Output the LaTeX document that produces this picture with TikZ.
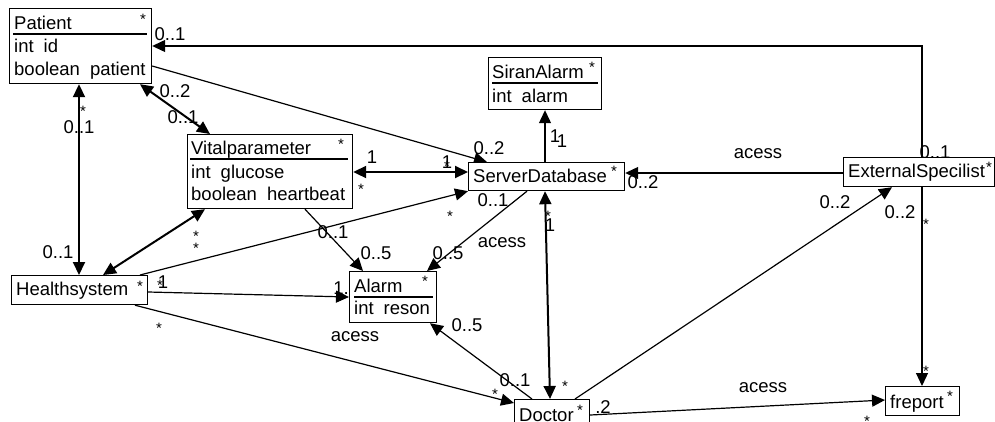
\documentclass[tikz,border=0pt]{standalone}
\usepackage{fontspec}
\setmainfont{Liberation Sans}
\usetikzlibrary{arrows.meta,backgrounds}
\begin{document}
\begin{tikzpicture}[x=1pt,y=-1pt,
  every node/.style={font=\fontsize{18.5}{20}\selectfont},
  box/.style={draw, line width=1.2pt, fill=white, inner sep=0, anchor=north west},
  txt/.style={inner sep=0, anchor=base west},
  lab/.style={inner sep=0, anchor=base},
  star/.style={inner sep=0, anchor=base, font=\fontsize{15}{16}\selectfont},
  sepline/.style={line width=1.2pt},
  assoc/.style={line width=1.2pt, -{Triangle[length=13pt,width=12pt]}},
  biassoc/.style={line width=2pt, {Triangle[length=13pt,width=12pt]}-{Triangle[length=13pt,width=12pt]}}]
\useasboundingbox (0,0) rectangle (995,421);
\clip (0,0) rectangle (995,421);
% boxes
\node[box, minimum width=142pt, minimum height=75pt] (patient) at (9,8) {};
\node[box, minimum width=165pt, minimum height=74pt] (vital) at (187,134) {};
\node[box, minimum width=113pt, minimum height=52pt] (siran) at (488,57) {};
\node[box, minimum width=156pt, minimum height=28pt] (server) at (468,162) {};
\node[box, minimum width=151pt, minimum height=29pt] (ext) at (843,157) {};
\node[box, minimum width=136pt, minimum height=29pt] (health) at (11,275) {};
\node[box, minimum width=87pt, minimum height=51pt] (alarm) at (349,271) {};
\node[box, minimum width=75pt, minimum height=34pt] (doctor) at (514,399) {};
\node[box, minimum width=74pt, minimum height=29pt] (freport) at (885,386) {};
% box texts
\node[txt] (tPatient) at (14,29) {Patient};
\node[txt] (tPid) at (14,52) {int\hspace{10pt}id};
\node[txt] (tPbool) at (14,75) {boolean\hspace{10pt}patient};
\node[txt] (tVital) at (191,154) {Vitalparameter};
\node[txt] (tVglu) at (191,178) {int\hspace{10pt}glucose};
\node[txt] (tVhb) at (191,200) {boolean\hspace{10pt}heartbeat};
\node[txt] (tSiran) at (492,78) {SiranAlarm};
\node[txt] (tSal) at (492,102) {int\hspace{10pt}alarm};
\node[txt] (tServer) at (473,182) {ServerDatabase};
\node[txt] (tExt) at (848,177) {ExternalSpecilist};
\node[txt] (tHealth) at (16,295) {Healthsystem};
\node[txt] (tAlarm) at (354,292) {Alarm};
\node[txt] (tAres) at (354,314) {int\hspace{10pt}reson};
\node[txt] (tDoctor) at (519,421) {Doctor};
\node[txt] (tFreport) at (890,408) {freport};
% box stars
\node[star] (sPatient) at (143,24) {*};
\node[star] (sVital) at (341,149) {*};
\node[star] (sSiran) at (592,72) {*};
\node[star] (sServer) at (614,176) {*};
\node[star] (sExt) at (989,172) {*};
\node[star] (sHealth) at (140,291) {*};
\node[star] (sAlarm) at (425,286) {*};
\node[star] (sDoctor) at (580,415) {*};
\node[star] (sFreport) at (950,401) {*};
% header lines
\draw[sepline] (13,34) -- (147,34);
\draw[sepline] (190,159) -- (348,159);
\draw[sepline] (492,83) -- (598,83);
\draw[sepline] (354,297) -- (433,297);
\begin{pgfonlayer}{background}
% connectors
\draw[assoc] (ext.north -| 922,0) |- (patient.east |- 0,46);
\draw[assoc] (patient.east |- 0,66) -- (server.north -| 487,0);
\draw[biassoc] (patient.south -| 140,0) -- (vital.north -| 210,0);
\draw[biassoc] (patient.south -| 79,0) -- (health.north -| 79,0);
\draw[biassoc] (vital.east |- 0,172) -- (server.west |- 0,172);
\draw[biassoc] (vital.south -| 205,0) -- (health.north -| 103,0);
\draw[assoc] (health.north -| 140,0) -- (server.south west);
\draw[assoc] (vital.south -| 305,0) -- (alarm.north -| 363,0);
\draw[assoc] (server.south -| 527,0) -- (alarm.north -| 427,0);
\draw[assoc] (server.north -| 545,0) -- (siran.south -| 545,0);
\draw[assoc] (ext.west |- 0,173) -- (server.east |- 0,173);
\draw[biassoc] (server.south -| 545,0) -- (doctor.north -| 550,0);
\draw[assoc] (health.east |- 0,292) -- (alarm.west |- 0,297);
\draw[assoc] (health.south -| 135,0) -- (doctor.west |- 0,403);
\draw[assoc] (doctor.north -| 532,0) -- (alarm.south -| 430,0);
\draw[assoc] (doctor.north -| 575,0) -- (ext.south -| 892,0);
\draw[assoc] (doctor.east |- 0,415) -- (freport.west |- 0,400);
\draw[assoc] (ext.south -| 922,0) -- (freport.north -| 922,0);
% multiplicity labels
\node[lab] (l1) at (170,40) {0..1};
\node[lab] (l2) at (935,158) {0..1};
\node[lab] (l3) at (489,154) {0..2};
\node[lab] (l4) at (175,97) {0..2};
\node[lab] (l5) at (183,123) {0..1};
\node[star] (l6) at (83,116) {*};
\node[lab] (l7) at (79,133) {0..1};
\node[lab] (l8) at (58,258) {0..1};
\node[lab] (l9) at (372,163) {1};
\node[star] (l10) at (361,194) {*};
\node[lab] (l11) at (447,168) {1};
\node[star] (l12) at (447,171) {*};
\node[star] (l13) at (196,241) {*};
\node[star] (l14) at (196,253) {*};
\node[star] (l15) at (450,221) {*};
\node[star] (l16) at (160,290) {*};
\node[lab] (l17) at (163,288) {1};
\node[lab] (l18) at (333,238) {0..1};
\node[lab] (l19) at (376,259) {0..5};
\node[lab] (l20) at (493,206) {0..1};
\node[lab] (l21) at (448,259) {0..5};
\node[lab] (l22) at (502,247) {acess};
\node[lab] (l23) at (555,142) {1};
\node[lab] (l24) at (562,147) {1};
\node[lab] (l25) at (758,158) {acess};
\node[lab] (l26) at (643,188) {0..2};
\node[star] (l27) at (548,221) {*};
\node[lab] (l28) at (550,231) {1};
\node[star] (l29) at (565,391) {*};
\node[lab, anchor=base east] (l30) at (349,294) {1.};
\node[star] (l31) at (159,333) {*};
\node[lab] (l32) at (355,341) {acess};
\node[star] (l33) at (495,399) {*};
\node[lab] (l34) at (467,331) {0..5};
\node[lab] (l35) at (515,386) {0..1};
\node[lab] (l36) at (835,208) {0..2};
\node[lab] (l37) at (900,218) {0..2};
\node[lab] (l38) at (603,413) {.2};
\node[lab] (l39) at (763,392) {acess};
\node[star] (l40) at (867,426) {*};
\node[star] (l41) at (926,229) {*};
\node[star] (l42) at (926,376) {*};
\end{pgfonlayer}
\end{tikzpicture}
\end{document}
